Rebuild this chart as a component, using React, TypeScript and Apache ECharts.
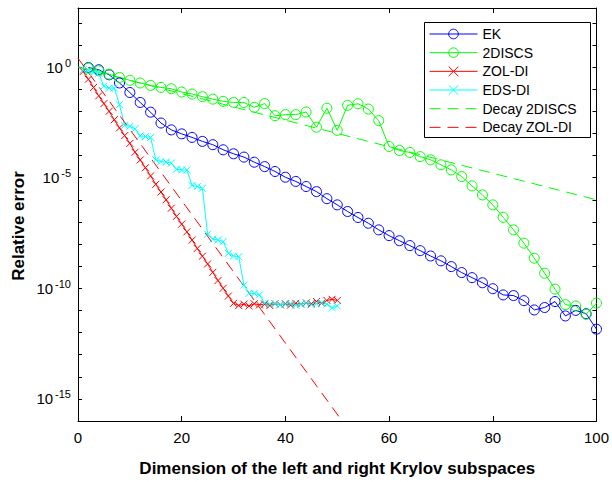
import React, { useEffect, useRef } from 'react';
import * as echarts from 'echarts';

// x positions (subspace dimension)
const evenX = [2, 4, 6, 8, 10, 12, 14, 16, 18, 20, 22, 24, 26, 28, 30, 32, 34, 36, 38, 40, 42, 44, 46, 48, 50,
  52, 54, 56, 58, 60, 62, 64, 66, 68, 70, 72, 74, 76, 78, 80, 82, 84, 86, 88, 90, 92, 94, 96, 98, 100];
const unitX = [1, 2, 3, 4, 5, 6, 7, 8, 9, 10, 11, 12, 13, 14, 15, 16, 17, 18, 19, 20, 21, 22, 23, 24, 25,
  26, 27, 28, 29, 30, 31, 32, 33, 34, 35, 36, 37, 38, 39, 40, 41, 42, 43, 44, 45, 46, 47, 48, 49, 50];

// log10 of relative error
const ekExp = [-0.02, -0.12, -0.35, -0.72, -1.15, -1.6, -2.04, -2.53, -2.84, -3.02, -3.18, -3.36, -3.51, -3.74,
  -3.92, -4.07, -4.3, -4.5, -4.72, -4.98, -5.17, -5.4, -5.63, -5.95, -6.23, -6.53, -6.8, -7.06, -7.36, -7.62,
  -7.85, -8.07, -8.3, -8.54, -8.76, -9.02, -9.29, -9.52, -9.75, -10.02, -10.3, -10.33, -10.56, -10.98, -10.87,
  -10.6, -11.25, -11.0, -11.15, -11.85];
const discsExp = [-0.05, -0.17, -0.32, -0.47, -0.6, -0.72, -0.83, -0.92, -0.98, -1.13, -1.22, -1.34, -1.45, -1.55,
  -1.6, -1.6, -1.82, -1.65, -2.2, -2.15, -2.15, -2.03, -2.72, -1.86, -2.86, -1.73, -1.66, -1.9, -2.42, -3.59,
  -3.77, -3.86, -4.05, -4.19, -4.42, -4.65, -4.95, -5.37, -5.78, -6.23, -6.79, -7.36, -7.96, -8.64, -9.32,
  -10.04, -10.74, -10.8, -11.18, -10.67];
const zolExp = [-0.2, -0.55, -0.92, -1.3, -1.65, -2.0, -2.38, -2.75, -3.1, -3.45, -3.85, -4.2, -4.55, -4.92, -5.3,
  -5.65, -6.0, -6.38, -6.75, -7.1, -7.45, -7.82, -8.2, -8.55, -8.9, -9.28, -9.65, -10.0, -10.35, -10.68, -10.78,
  -10.72, -10.8, -10.7, -10.75, -10.72, -10.78, -10.7, -10.74, -10.7, -10.76, -10.68, -10.72, -10.66, -10.7,
  -10.6, -10.68, -10.55, -10.5, -10.55];
const edsExp = [-0.12, -0.17, -0.25, -0.28, -0.87, -0.95, -0.95, -1.7, -2.64, -2.68, -2.79, -3.11, -3.14, -3.18,
  -4.19, -4.27, -4.3, -4.34, -4.62, -4.65, -4.65, -5.35, -5.4, -5.48, -7.56, -7.78, -7.81, -7.89, -8.42, -8.54,
  -8.57, -9.85, -10.23, -10.23, -10.3, -10.68, -10.72, -10.7, -10.75, -10.72, -10.7, -10.76, -10.72, -10.68,
  -10.74, -10.7, -10.66, -10.72, -10.88, -10.8];
const decayDiscsX = [0, 100];
const decayDiscsExp = [0, -6.0];
const decayZolX = [0, 52];
const decayZolExp = [0.4, -16.34];

const seriesNames = ['EK', '2DISCS', 'ZOL-DI', 'EDS-DI', 'Decay 2DISCS', 'Decay ZOL-DI'];
const xTitle = 'Dimension of the left and right Krylov subspaces';
const yTitle = 'Relative error';

const FONT = '"Liberation Sans", Arial, Helvetica, sans-serif';
const BLUE = '#0000ff';
const GREEN = '#00ff00';
const RED = '#ff0000';
const CYAN = '#00ffff';
const NONE = 'rgba(0,0,0,0)';
const CROSS = 'path://M0,0L10,10M10,0L0,10';

const pairs = (xs: number[], ys: number[]) => xs.map((x, i) => [x, ys[i]]);

const axisLineStyle = { show: true, onZero: false, lineStyle: { color: '#000', width: 1 } };

export default function App() {
  const ref = useRef<HTMLDivElement>(null);
  useEffect(() => {
    if (!ref.current) return;
    const chart = echarts.init(ref.current, undefined, { renderer: 'svg' });
    const yFormatter = (v: number) => {
      const r = Math.round(v);
      if (Math.abs(v - r) > 1e-6 || r % 5 !== 0) return '';
      return `{b|10}{s|${r}}`;
    };
    chart.setOption({
      animation: false,
      backgroundColor: '#ffffff',
      grid: { left: 78, right: 9, top: 8, bottom: 61, containLabel: false },
      xAxis: [
        {
          type: 'value', min: 0, max: 100, interval: 20, position: 'bottom',
          axisLine: axisLineStyle,
          axisTick: { show: true, inside: true, length: 5, lineStyle: { color: '#000' } },
          axisLabel: { color: '#000', fontSize: 15, fontFamily: FONT, margin: 9 },
          splitLine: { show: false },
          name: xTitle, nameLocation: 'middle', nameGap: 39,
          nameTextStyle: { fontSize: 17, fontWeight: 'bold', fontFamily: FONT, color: '#000' },
        },
        {
          type: 'value', min: 0, max: 100, interval: 20, position: 'top',
          axisLine: axisLineStyle,
          axisTick: { show: true, inside: true, length: 5, lineStyle: { color: '#000' } },
          axisLabel: { show: false },
          splitLine: { show: false },
        },
      ],
      yAxis: [
        {
          type: 'value', min: -16, max: 2.67, interval: 1, position: 'left',
          axisLine: axisLineStyle,
          axisTick: { show: true, inside: true, length: 4, lineStyle: { color: '#000' } },
          axisLabel: {
            formatter: yFormatter, margin: 7, color: '#000',
            rich: {
              b: { fontSize: 15, fontFamily: FONT, color: '#000', lineHeight: 20 },
              s: { fontSize: 11, fontFamily: FONT, color: '#000', lineHeight: 12, verticalAlign: 'top', padding: [0, 0, 0, 2] },
            },
          },
          splitLine: { show: false },
        },
        {
          type: 'value', min: -16, max: 2.67, interval: 1, position: 'right',
          axisLine: axisLineStyle,
          axisTick: { show: true, inside: true, length: 4, lineStyle: { color: '#000' } },
          axisLabel: { show: false },
          splitLine: { show: false },
        },
      ],
      legend: {
        orient: 'vertical', left: 429, top: 27, itemWidth: 48, itemHeight: 12, itemGap: 4.67, padding: 0,
        selectedMode: false, z: 10,
        lineStyle: { width: 1 },
        itemStyle: { borderWidth: 1 },
        textStyle: { fontSize: 14, fontFamily: FONT, color: '#000' },
        data: seriesNames,
      },
      graphic: [
        {
          type: 'rect', z: 5, silent: true,
          shape: { x: 424.5, y: 22.5, width: 166, height: 115 },
          style: { fill: '#fff', stroke: '#000', lineWidth: 1 },
        },
        {
          type: 'text', z: 5, x: 18, y: 226, rotation: Math.PI / 2,
          style: {
            text: yTitle, fontSize: 17, fontWeight: 'bold', fontFamily: FONT, fill: '#000',
            align: 'center', verticalAlign: 'middle',
          },
        },
      ],
      series: [
        {
          name: seriesNames[0], type: 'line', data: pairs(evenX, ekExp),
          symbol: 'circle', symbolSize: 10,
          lineStyle: { color: BLUE, width: 1 },
          itemStyle: { color: NONE, borderColor: BLUE, borderWidth: 1 },
        },
        {
          name: seriesNames[1], type: 'line', data: pairs(evenX, discsExp),
          symbol: 'circle', symbolSize: 10,
          lineStyle: { color: GREEN, width: 1 },
          itemStyle: { color: NONE, borderColor: GREEN, borderWidth: 1 },
        },
        {
          name: seriesNames[2], type: 'line', data: pairs(unitX, zolExp),
          symbol: CROSS, symbolSize: 7,
          lineStyle: { color: RED, width: 1 },
          itemStyle: { color: RED, borderColor: RED, borderWidth: 1 },
        },
        {
          name: seriesNames[3], type: 'line', data: pairs(unitX, edsExp),
          symbol: CROSS, symbolSize: 7,
          lineStyle: { color: CYAN, width: 1 },
          itemStyle: { color: CYAN, borderColor: CYAN, borderWidth: 1 },
        },
        {
          name: seriesNames[4], type: 'line', data: pairs(decayDiscsX, decayDiscsExp),
          symbol: 'none', showSymbol: false,
          lineStyle: { color: GREEN, width: 1, type: [11, 7] },
          itemStyle: { color: NONE, borderColor: NONE, borderWidth: 0 },
        },
        {
          name: seriesNames[5], type: 'line', data: pairs(decayZolX, decayZolExp),
          symbol: 'none', showSymbol: false,
          lineStyle: { color: RED, width: 1, type: [11, 7] },
          itemStyle: { color: NONE, borderColor: NONE, borderWidth: 0 },
        },
      ],
    });
    return () => chart.dispose();
  }, []);
  return (
    <div
      ref={ref}
      style={{ position: 'absolute', left: 0, top: 0, width: 612, height: 482, background: '#fff' }}
    />
  );
}
